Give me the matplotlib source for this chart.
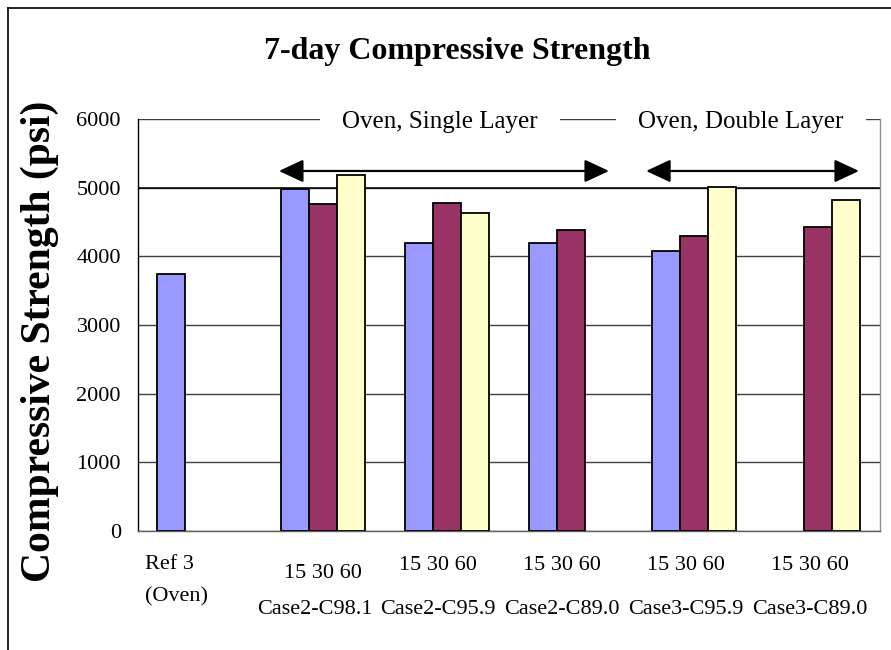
import numpy as np
import matplotlib
matplotlib.use("Agg")
import matplotlib.pyplot as plt
from matplotlib.lines import Line2D
from matplotlib.transforms import blended_transform_factory

# ---- data ----
groups = ["Ref 3\n(Oven)", "Case2-C98.1", "Case2-C95.9", "Case2-C89.0", "Case3-C95.9", "Case3-C89.0"]
series_labels = ["15", "30", "60"]
s15 = [3740, 4976, 4198, 4198, 4077, np.nan]
s30 = [np.nan, 4758, 4781, 4383, 4300, 4423]
s60 = [np.nan, 5189, 4635, np.nan, 5005, 4825]
yticks = [0, 1000, 2000, 3000, 4000, 5000, 6000]
title = "7-day Compressive Strength"
ylabel = "Compressive Strength (psi)"
region_labels = ["Oven, Single Layer", "Oven, Double Layer"]

colors = ["#9999FF", "#993366", "#FFFFCC"]
serif = ["Liberation Serif", "DejaVu Serif"]

W, H = 891, 650
fig = plt.figure(figsize=(W / 100, H / 100), dpi=100)
fig.patch.set_facecolor("white")

x0, x1, ytop, ybot = 137.5, 880, 119, 531
ax = fig.add_axes([x0 / W, 1 - ybot / H, (x1 - x0) / W, (ybot - ytop) / H])

x = np.arange(len(groups))
w = 0.226
for i, vals in enumerate([s15, s30, s60]):
    ax.bar(x + (i - 1) * w, vals, width=w, color=colors[i], edgecolor="black",
           linewidth=1.3, zorder=3)

ax.set_xlim(-0.5, len(groups) - 0.5)
ax.set_ylim(0, 6000)
ax.set_yticks(yticks)
ax.set_yticklabels([str(v) for v in yticks], family=serif, fontsize=16)
ax.tick_params(axis="y", length=0, pad=12)
ax.set_xticks([])
ax.yaxis.grid(True, color="#404040", linewidth=1)
ax.set_axisbelow(True)
ax.axhline(5000, color="black", linewidth=1.1, zorder=1)
ax.spines["top"].set_visible(False)
ax.spines["left"].set_color("black")
ax.spines["bottom"].set_color("#606060")
ax.spines["right"].set_color("#909090")
for s in ["left", "bottom", "right"]:
    ax.spines[s].set_linewidth(1)

# category labels
tr = blended_transform_factory(ax.transData, fig.transFigure)
def fy(py):
    return 1 - py / H
ax.text(-0.44, fy(581), groups[0], transform=tr, ha="left", va="center",
        family=serif, fontsize=16, linespacing=1.95)
series_line = " ".join(series_labels)
for i in range(1, len(groups)):
    off = 0.0 if i == 1 else -0.07
    ax.text(x[i] + off, fy(573 if i == 1 else 566), series_line, transform=tr,
            ha="center", va="center", family=serif, fontsize=16)
    ax.text(x[i] - 0.07, fy(609), groups[i], transform=tr,
            ha="center", va="center", family=serif, fontsize=16)

# region annotations
for lab, cx in zip(region_labels, [1.944, 4.377]):
    ax.text(cx, 5950, lab, ha="center", va="center", family=serif, fontsize=18,
            zorder=4, bbox=dict(boxstyle="square,pad=0.9", fc="white", ec="none"))

arrow_kw = dict(arrowstyle="<|-|>,head_length=0.75,head_width=0.35",
                color="black", lw=1.6, mutation_scale=20, shrinkA=0, shrinkB=0)
ax.annotate("", xy=(3 + 0.31, 5243), xytext=(1 - 0.357, 5243), arrowprops=arrow_kw, zorder=5)
ax.annotate("", xy=(5 + 0.33, 5243), xytext=(4 - 0.39, 5243), arrowprops=arrow_kw, zorder=5)

# title and y label
fig.text(457 / W, fy(52), title, ha="center", va="center", family=serif,
         fontsize=23, fontweight="bold")
fig.text(40 / W, fy(341), ylabel, ha="center", va="center", rotation=90,
         family=serif, fontsize=30, fontweight="bold")

# outer frame (left and top edges)
fig.add_artist(Line2D([7.5 / W, 7.5 / W], [0, 1 - 7.5 / H], color="black", lw=1.2,
                      transform=fig.transFigure))
fig.add_artist(Line2D([7.5 / W, 1], [1 - 7.5 / H, 1 - 7.5 / H], color="black", lw=1.2,
                      transform=fig.transFigure))

fig.savefig("out.png", dpi=100)
